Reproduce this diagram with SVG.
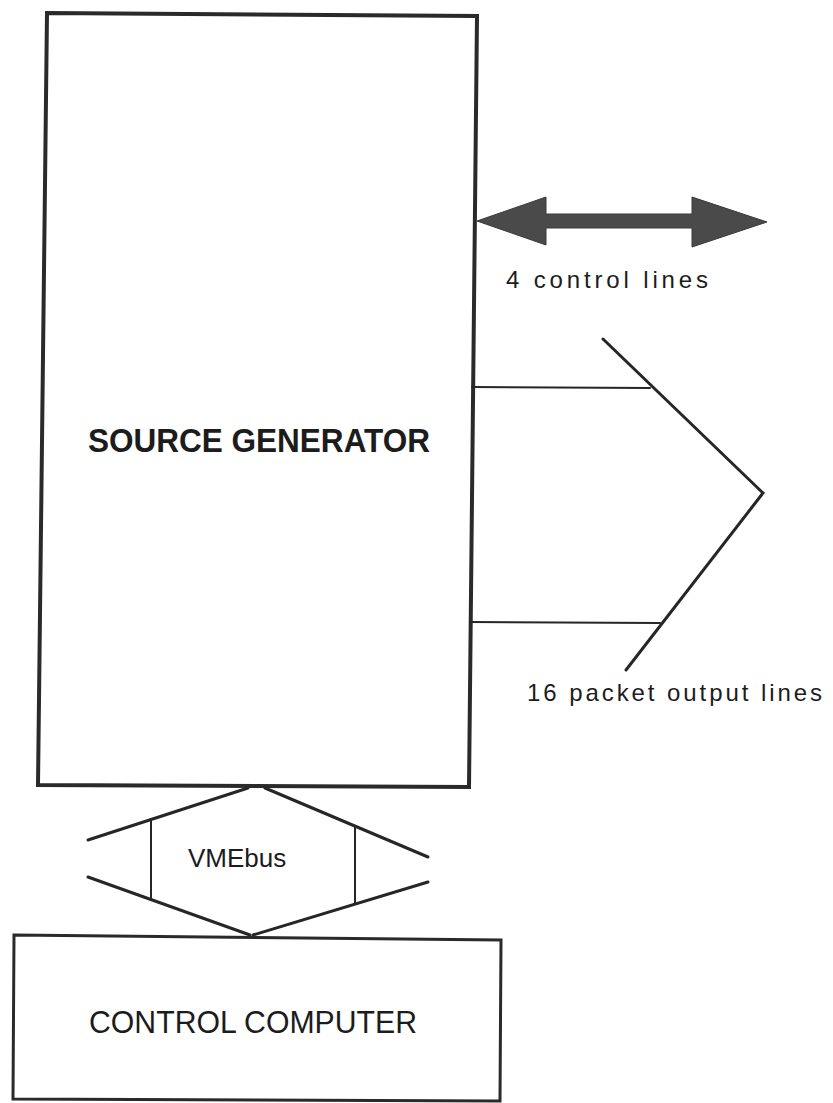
<svg xmlns="http://www.w3.org/2000/svg" width="833" height="1103" viewBox="0 0 833 1103">
  <style>
    .box { fill: none; stroke: #2a2a2a; stroke-linejoin: miter; }
    .wire { fill: none; stroke: #262626; stroke-linecap: round; }
    .label { font-family: "Liberation Sans", Arial, sans-serif; fill: #1c1c1c; }
  </style>
  <rect width="833" height="1103" fill="#ffffff"/>

  <!-- Source generator block -->
  <g id="source-generator">
    <polygon class="box" stroke-width="4" points="47,13 477,16 469,787 38,785"/>
    <text class="label" x="88" y="452" font-size="33" font-weight="bold" textLength="342" lengthAdjust="spacingAndGlyphs">SOURCE GENERATOR</text>
  </g>

  <!-- Control computer block -->
  <g id="control-computer">
    <polygon class="box" stroke-width="3" points="14,935 501,940 500,1101 13,1099"/>
    <text class="label" x="89" y="1033" font-size="32" textLength="328" lengthAdjust="spacingAndGlyphs">CONTROL COMPUTER</text>
  </g>

  <!-- Interfaces between and out of the blocks -->
  <g id="connectors">
    <!-- bidirectional control bus -->
    <polygon fill="#4a4a4a" stroke="#3a3a3a" stroke-width="1" points="477,221 546,197 546,214 692,214 692,197 767,222 692,247 692,228 546,228 546,245"/>

    <!-- packet output lines -->
    <line class="wire" stroke-width="2" x1="472" y1="387" x2="650" y2="388"/>
    <line class="wire" stroke-width="2" x1="470" y1="622" x2="660" y2="623"/>
    <polyline class="wire" stroke-width="3" points="603,339 763,493 626,670"/>

    <!-- VMEbus -->
    <line class="wire" stroke-width="3" x1="88" y1="840" x2="248" y2="788"/>
    <line class="wire" stroke-width="3" x1="265" y1="788" x2="428" y2="857"/>
    <line class="wire" stroke-width="3" x1="88" y1="877" x2="250" y2="935"/>
    <line class="wire" stroke-width="3" x1="253" y1="935" x2="428" y2="882"/>
    <line class="wire" stroke-width="2" x1="151" y1="819" x2="151" y2="900"/>
    <line class="wire" stroke-width="2" x1="355" y1="826" x2="355" y2="904"/>
  </g>

  <g id="labels">
    <text class="label" x="506" y="288" font-size="24" textLength="202" lengthAdjust="spacing">4  control lines</text>
    <text class="label" x="527" y="701" font-size="24" textLength="295" lengthAdjust="spacing">16 packet output lines</text>
    <text class="label" x="188" y="867" font-size="26">VMEbus</text>
  </g>
</svg>
